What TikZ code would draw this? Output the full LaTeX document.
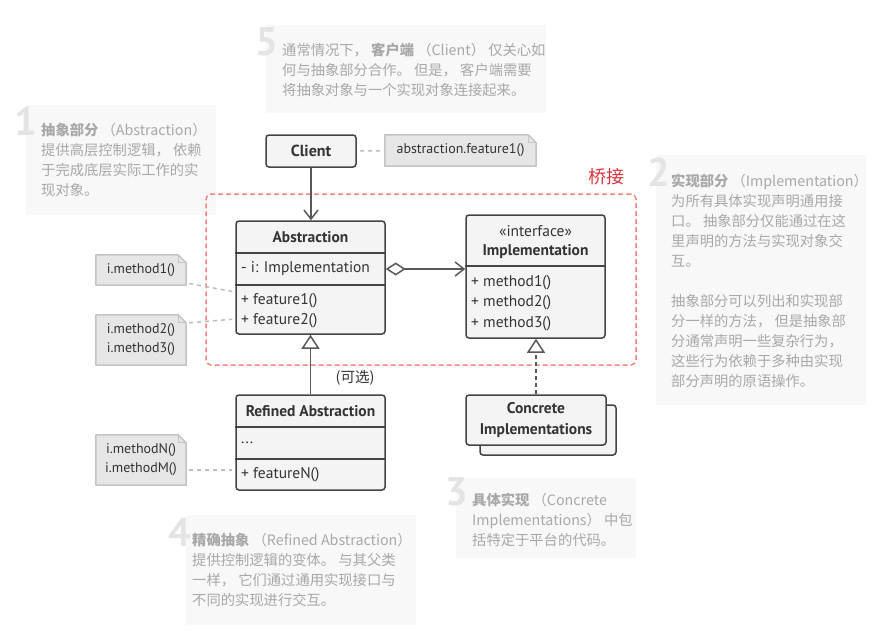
\documentclass[tikz,border=0pt]{standalone}
\usepackage{fontspec}
\setmainfont{PT Sans}
\newfontfamily\cjk{Noto Sans CJK SC}
\usetikzlibrary{arrows.meta,backgrounds}
\definecolor{clsborder}{HTML}{444444}
\definecolor{clsfill}{HTML}{F4F4F4}
\definecolor{textdark}{HTML}{333333}
\definecolor{linegray}{HTML}{595959}
\definecolor{notefill}{HTML}{E6E6E6}
\definecolor{noteline}{HTML}{C4C4C4}
\definecolor{linkgray}{HTML}{BDBDBD}
\definecolor{bridgeline}{HTML}{F2877B}
\definecolor{bridgered}{HTML}{D8343C}
\definecolor{descfill}{HTML}{F8F8F8}
\definecolor{desctext}{HTML}{A8A8A8}
\definecolor{numgray}{HTML}{E4E4E4}
\newcommand\descblock[1]{\parbox[t]{400pt}{\cjk\fontsize{14.3}{20}\selectfont\raggedright #1}}
\newcommand\notebg[1]{%
  \filldraw[fill=notefill,draw=noteline,line width=1.5pt,line join=round]
    (#1.north west) -- ([xshift=-8pt]#1.north east) -- ([yshift=-8pt]#1.north east)
    -- (#1.south east) -- (#1.south west) -- cycle;
  \draw[noteline,line width=1.2pt,line join=round]
    ([xshift=-8pt]#1.north east) -- ([xshift=-8pt,yshift=-8pt]#1.north east) -- ([yshift=-8pt]#1.north east);}
\begin{document}
\begin{tikzpicture}[x=1pt,y=-1pt,
  descbg/.style={fill=descfill,draw=none,inner sep=0pt},
  desc/.style={text=desctext,inner sep=0pt,anchor=base west},
  num/.style={text=numgray,inner sep=0pt,anchor=base east,font=\fontsize{40}{40}\selectfont\bfseries},
  cls/.style={draw=clsborder,fill=clsfill,line width=1.5pt,rounded corners=3pt,inner sep=0pt,text=textdark,font=\fontsize{15.5}{20.5}\selectfont},
  clsline/.style={draw=clsborder,line width=1.5pt},
  ctext/.style={inner sep=0pt,text=textdark,font=\fontsize{15.5}{20}\selectfont},
  btext/.style={inner sep=0pt,text=textdark,font=\fontsize{15.5}{20}\selectfont\bfseries},
  note/.style={inner sep=0pt,text=textdark,align=center,font=\fontsize{14}{19}\selectfont},
  notelink/.style={draw=linkgray,line width=1.5pt,dash pattern=on 4pt off 4pt,shorten <=3pt,shorten >=3pt},
  bridge/.style={draw=bridgeline,line width=1.5pt,dash pattern=on 5pt off 3pt,rounded corners=5pt,inner sep=0pt},
  assoc/.style={draw=linegray,line width=1.5pt,-{Straight Barb[length=9pt,width=14pt]}},
  agg/.style={draw=linegray,line width=1.5pt,{Diamond[fill=white,length=20pt,width=13pt]}-{Straight Barb[length=9pt,width=14pt]}},
  inherit/.style={draw=linegray,line width=1.5pt,-{Triangle[fill=white,length=14pt,width=18pt]}},
  realize/.style={inherit,dash pattern=on 4pt off 3pt}
]
\useasboundingbox (0,0) rectangle (878,630);

% description boxes
\node[descbg,minimum width=190pt,minimum height=110pt] (d1) at (121,160) {};
\node[descbg,minimum width=280pt,minimum height=88pt] (d5) at (406,69) {};
\node[descbg,minimum width=210pt,minimum height=250pt] (d2) at (761,280) {};
\node[descbg,minimum width=180pt,minimum height=80pt] (d3) at (546,518) {};
\node[descbg,minimum width=230pt,minimum height=110pt] (d4) at (301,570) {};

\node[num] (num1) at (37,135) {1};
\node[num] (num5) at (278,55) {5};
\node[num] (num2) at (670,186) {2};
\node[num] (num3) at (468,505) {3};
\node[num] (num4) at (191,546) {4};

\node[desc] (t1) at (41,135) {\descblock{{\bfseries 抽象部分} （Abstraction）\\提供高层控制逻辑， 依赖\\于完成底层实际工作的实\\现对象。}};
\node[desc] (t5) at (282,55) {\descblock{通常情况下， {\bfseries 客户端} （Client） 仅关心如\\何与抽象部分合作。 但是， 客户端需要\\将抽象对象与一个实现对象连接起来。}};
\node[desc] (t2) at (671,186) {\descblock{{\bfseries 实现部分} （Implementation）\\为所有具体实现声明通用接\\口。 抽象部分仅能通过在这\\里声明的方法与实现对象交\\互。\\[20pt]抽象部分可以列出和实现部\\分一样的方法， 但是抽象部\\分通常声明一些复杂行为，\\这些行为依赖于多种由实现\\部分声明的原语操作。}};
\node[desc] (t3) at (472,505) {\descblock{{\bfseries 具体实现} （Concrete\\Implementations） 中包\\括特定于平台的代码。}};
\node[desc] (t4) at (192,545) {\descblock{{\bfseries 精确抽象} （Refined Abstraction）\\提供控制逻辑的变体。 与其父类\\一样， 它们通过通用实现接口与\\不同的实现进行交互。}};

% bridge region
\node[bridge,minimum width=430pt,minimum height=171pt] (bridge) at (421,279.5) {};
\node[inner sep=0pt,text=bridgered,font=\cjk\fontsize{18}{18}\selectfont] (bridgelbl) at (606,177) {桥接};

% client
\node[cls,minimum width=90pt,minimum height=32pt,font=\fontsize{16}{20}\selectfont\bfseries] (client) at (311,151) {Client};
\node[note,minimum width=151pt,minimum height=31pt] (nclient) at (460.5,150.5) {abstraction.feature1()};

% abstraction
\node[cls,minimum width=149pt,minimum height=113pt] (abs) at (310.5,277.5) {};
\draw[clsline] (abs.west |- 0,253) -- (abs.east |- 0,253);
\draw[clsline] (abs.west |- 0,285) -- (abs.east |- 0,285);
\node[btext] (absname) at (310.5,237) {Abstraction};
\node[ctext,anchor=west] (absattr) at (241,269) {- i: Implementation};
\node[ctext,anchor=west] (absf1) at (241,301) {+ feature1()};
\node[ctext,anchor=west] (absf2) at (241,321) {+ feature2()};

% implementation
\node[cls,minimum width=139pt,minimum height=123pt] (impl) at (535.5,276.5) {};
\draw[clsline] (impl.west |- 0,266) -- (impl.east |- 0,266);
\node[ctext] (implst) at (535.5,231) {«interface»};
\node[btext] (implname) at (535.5,252) {Implementation};
\node[ctext,anchor=west] (implm1) at (471,283) {+ method1()};
\node[ctext,anchor=west] (implm2) at (471,303) {+ method2()};
\node[ctext,anchor=west] (implm3) at (471,324) {+ method3()};

% refined abstraction
\node[cls,minimum width=149pt,minimum height=95pt] (ref) at (310.5,442.5) {};
\draw[clsline] (ref.west |- 0,427) -- (ref.east |- 0,427);
\draw[clsline] (ref.west |- 0,459) -- (ref.east |- 0,459);
\node[btext] (refname) at (310.5,411) {Refined Abstraction};
\node[ctext,anchor=west] (refdots) at (241,443) {...};
\node[ctext,anchor=west] (reffn) at (241,475) {+ featureN()};

% concrete implementations
\node[cls,minimum width=136pt,minimum height=50pt] (concback) at (548,430) {};
\node[cls,minimum width=140pt,minimum height=50pt,align=center,font=\fontsize{15.5}{21}\selectfont\bfseries] (conc) at (536,420) {Concrete\\Implementations};

\node[inner sep=0pt,text=textdark,font=\cjk\fontsize{14.5}{14.5}\selectfont] (opt) at (355,378) {(可选)};

% notes
\node[note,minimum width=90pt,minimum height=30pt] (n1) at (141,270) {i.method1()};
\node[note,minimum width=90pt,minimum height=50pt] (n2) at (141,340) {i.method2()\\i.method3()};
\node[note,minimum width=90pt,minimum height=50pt] (n3) at (141,460) {i.methodN()\\i.methodM()};

\begin{scope}[on background layer]
\notebg{nclient}
\notebg{n1}
\notebg{n2}
\notebg{n3}
\end{scope}

% note links
\draw[notelink] (client) -- (nclient);
\draw[notelink] (n1.east |- 0,283) -- (abs.west |- 0,292);
\draw[notelink] (n2.east |- 0,323) -- (abs.west |- 0,319);
\draw[notelink] (n3.east |- 0,470) -- (ref.west |- 0,470);

% relations
\draw[assoc] (client.south) -- (client.south |- abs.north);
\draw[agg] (abs.east |- absattr) -- (impl.west |- absattr);
\draw[inherit] (ref.north) -- (abs.south);
\draw[realize] (conc.north) -- (conc.north |- impl.south);
\end{tikzpicture}
\end{document}
